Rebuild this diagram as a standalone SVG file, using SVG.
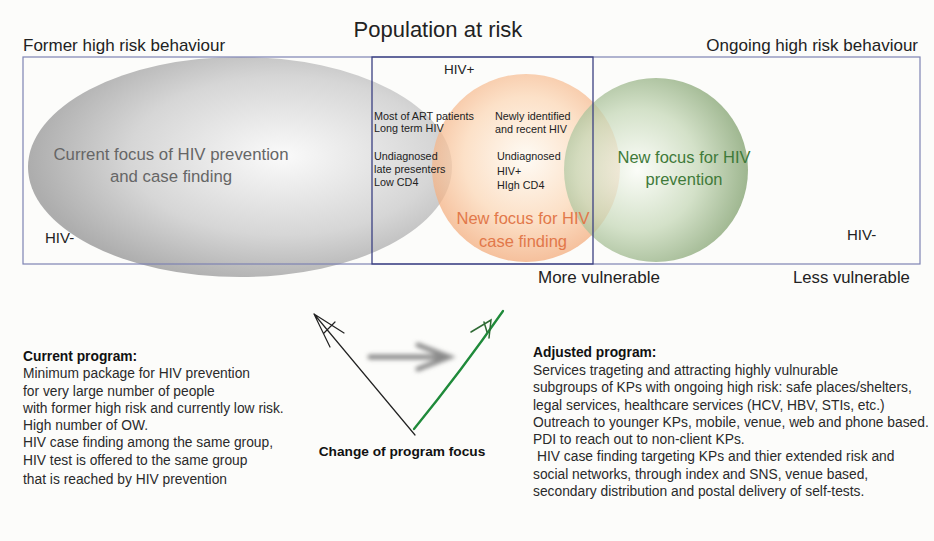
<svg xmlns="http://www.w3.org/2000/svg" width="934" height="541" viewBox="0 0 934 541">
<defs>
<style>
text{font-family:"Liberation Sans",Arial,sans-serif;fill:#222}
.big{font-size:17px}
.sm{font-size:10.8px;fill:#222}
.body{font-size:13.8px;fill:#2a2a2a}
.b{font-weight:bold;fill:#111}
</style>
<radialGradient id="gGray" cx="0.6" cy="0.45" r="0.6">
<stop offset="0" stop-color="#fafafa"/>
<stop offset="0.6" stop-color="#d6d6d6"/>
<stop offset="1" stop-color="#adadad"/>
</radialGradient>
<radialGradient id="gOr" cx="0.5" cy="0.45" r="0.55">
<stop offset="0" stop-color="#fffaf2"/>
<stop offset="0.6" stop-color="#fcd6b4"/>
<stop offset="1" stop-color="#f3a978"/>
</radialGradient>
<radialGradient id="gGr" cx="0.4" cy="0.5" r="0.6">
<stop offset="0" stop-color="#fbfdf8"/>
<stop offset="0.55" stop-color="#c6d8b8"/>
<stop offset="1" stop-color="#7f9f6c"/>
</radialGradient>
<filter id="blur" x="-20%" y="-50%" width="140%" height="200%"><feGaussianBlur stdDeviation="2"/></filter>
</defs>
<rect width="934" height="541" fill="#fcfcfa"/>

<g id="gray-ellipse">
<ellipse cx="240" cy="167" rx="212" ry="110" fill="url(#gGray)"/>
</g>
<g id="orange-circle">
<circle cx="526" cy="168" r="94" fill="url(#gOr)" opacity="0.72"/>
</g>
<g id="green-circle">
<circle cx="656" cy="170" r="92" fill="url(#gGr)" opacity="0.75"/>
</g>

<g id="frames" fill="none">
<rect x="23" y="57" width="897" height="207" stroke="#7d83b3" stroke-width="1.2"/>
<rect x="372" y="57" width="221" height="207" stroke="#3b4082" stroke-width="1.3"/>
</g>

<g id="titles">
<text x="438" y="37" text-anchor="middle" style="font-size:22px">Population at risk</text>
<text x="23" y="51" class="big">Former high risk behaviour</text>
<text x="918" y="51" class="big" text-anchor="end">Ongoing high risk behaviour</text>
<text x="444" y="74" style="font-size:13.5px">HIV+</text>
<text x="45" y="243" style="font-size:15px">HIV-</text>
<text x="847" y="240" style="font-size:15px">HIV-</text>
<text x="538" y="283" style="font-size:17px">More vulnerable</text>
<text x="793" y="283" style="font-size:16.7px">Less vulnerable</text>
</g>

<g id="current-focus">
<text x="171" y="160" text-anchor="middle" style="font-size:16.8px;fill:#666">Current focus of HIV prevention</text>
<text x="171" y="182" text-anchor="middle" style="font-size:16.8px;fill:#666">and case finding</text>
</g>
<g id="hivpos-labels">
<text x="374" y="120" class="sm">Most of ART patients</text>
<text x="374" y="132" class="sm">Long term HIV</text>
<text x="495" y="120" class="sm">Newly identified</text>
<text x="495" y="133" class="sm">and recent HIV</text>
<text x="374" y="160" class="sm">Undiagnosed</text>
<text x="374" y="173" class="sm">late presenters</text>
<text x="374" y="186" class="sm">Low CD4</text>
<text x="497" y="160" class="sm">Undiagnosed</text>
<text x="497" y="175" class="sm">HIV+</text>
<text x="497" y="189" class="sm">HIgh CD4</text>
</g>
<g id="new-focus-case">
<text x="523" y="224" text-anchor="middle" style="font-size:16.5px;fill:#e2784a">New focus for HIV</text>
<text x="523" y="247" text-anchor="middle" style="font-size:16.5px;fill:#e2784a">case finding</text>
</g>
<g id="new-focus-prev">
<text x="684" y="163" text-anchor="middle" style="font-size:16.5px;fill:#3f7a3a">New focus for HIV</text>
<text x="684" y="185" text-anchor="middle" style="font-size:16.5px;fill:#3f7a3a">prevention</text>
</g>

<g id="connectors" fill="none" stroke-linecap="round">
<path d="M415 435 L314 314 M314 314 L330 347 M314 314 L344 333 M324 333 L335 322" stroke="#222" stroke-width="1.2"/>
<path d="M414 429 Q462 370 503 311" stroke="#1f8a3a" stroke-width="2.3"/>
<path d="M471 332 L491 320 L489 338 M484 322 L487 332" stroke="#2f6a34" stroke-width="1.5"/>
<g filter="url(#blur)" stroke="#8a8a8a" stroke-width="5">
<path d="M370 357 L446 357"/>
<path d="M418 345 L449 357 L418 369"/>
</g>
</g>

<g id="change-label">
<text x="402" y="456" text-anchor="middle" class="b" style="font-size:13.7px">Change of program focus</text>
</g>

<g id="current-program">
<text x="23" y="361" class="body b">Current program:</text>
<text x="23" y="378" class="body">Minimum package for HIV prevention</text>
<text x="23" y="396" class="body">for very large number of people</text>
<text x="23" y="413" class="body">with former high risk and currently low risk.</text>
<text x="23" y="430" class="body">High number of OW.</text>
<text x="23" y="447" class="body">HIV case finding among the same group,</text>
<text x="23" y="465" class="body">HIV test is offered to the same group</text>
<text x="23" y="484" class="body">that is reached by HIV prevention</text>
</g>

<g id="adjusted-program">
<text x="533" y="357" class="body b">Adjusted program:</text>
<text x="533" y="375" class="body">Services trageting and attracting highly vulnurable</text>
<text x="533" y="392" class="body">subgroups of KPs with ongoing high risk: safe places/shelters,</text>
<text x="533" y="410" class="body">legal services, healthcare services (HCV, HBV, STIs, etc.)</text>
<text x="533" y="427" class="body">Outreach to younger KPs, mobile, venue, web and phone based.</text>
<text x="533" y="444" class="body">PDI to reach out to non-client KPs.</text>
<text x="537" y="461" class="body">HIV case finding targeting KPs and thier extended risk and</text>
<text x="533" y="479" class="body">social networks, through index and SNS, venue based,</text>
<text x="533" y="496" class="body">secondary distribution and postal delivery of self-tests.</text>
</g>
</svg>
